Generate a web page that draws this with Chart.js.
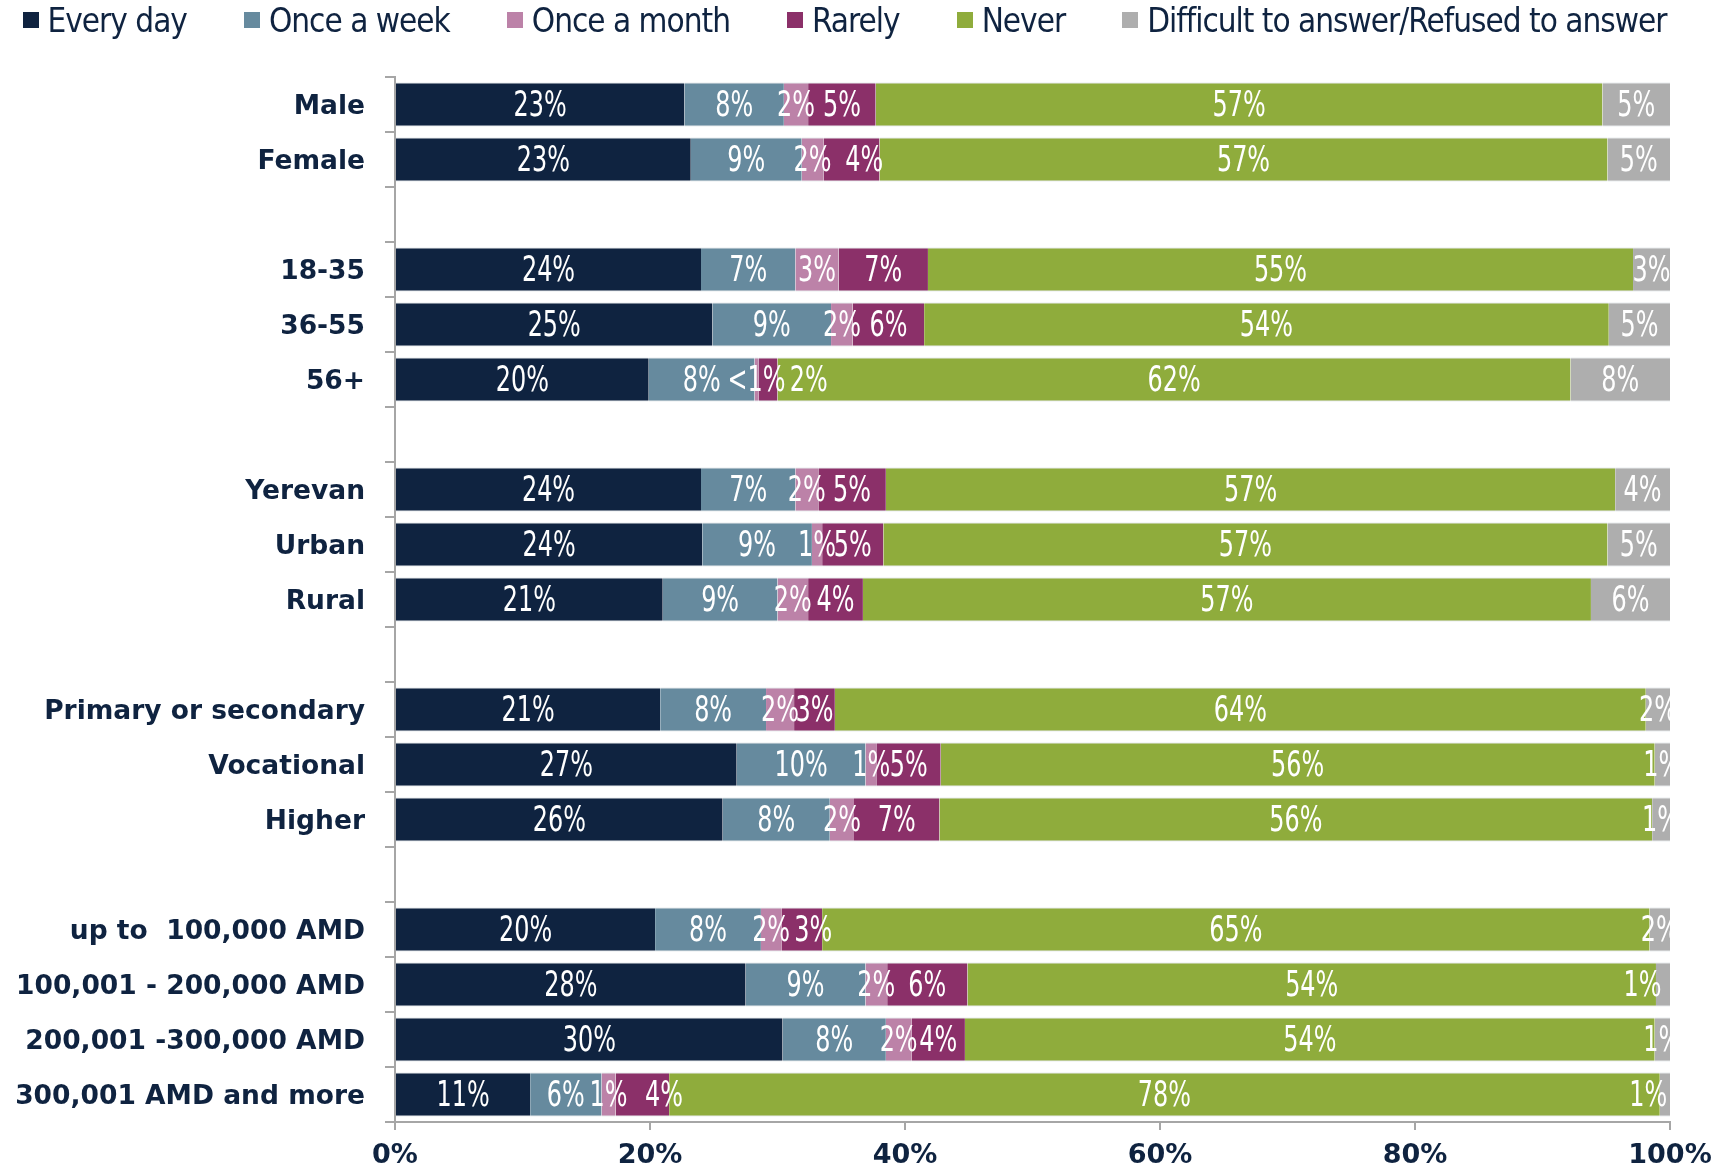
<!DOCTYPE html>
<html>
<head>
<meta charset="utf-8">
<script src="https://cdn.jsdelivr.net/npm/chart.js@4"></script>
<style>
  html, body { margin: 0; padding: 0; background: #fff; }
  #wrap { position: relative; width: 1729px; height: 1169px; }
  #legend {
    position: absolute; left: 0; top: 0; width: 1689px; height: 40px;
    display: flex; justify-content: center; align-items: center; gap: 57px;
    font-family: 'DejaVu Sans Condensed', sans-serif; font-size: 33px; letter-spacing: -1px;
    color: #0f2340; white-space: nowrap;
  }
  #legend span.item { display: flex; align-items: center; }
  #legend i { display: inline-block; width: 16px; height: 16px; margin-right: 9px; }
</style>
</head>
<body>
<div id="wrap"><div id="legend"></div><canvas id="myChart"></canvas></div>
<script>
const categories = ['Male', 'Female', '', '18-35', '36-55', '56+', '', 'Yerevan', 'Urban', 'Rural', '',
  'Primary or secondary', 'Vocational', 'Higher', '',
  'up to  100,000 AMD', '100,001 - 200,000 AMD', '200,001 -300,000 AMD', '300,001 AMD and more'];

const everyDay  = [22.7, 23.2, null, 24.0, 24.9, 19.9, null, 24.0, 24.1, 21.0, null, 20.8, 26.8, 25.7, null, 20.4, 27.5, 30.4, 10.6];
const onceWeek  = [7.8, 8.7, null, 7.4, 9.3, 8.3, null, 7.4, 8.6, 9.0, null, 8.3, 10.1, 8.4, null, 8.3, 9.4, 8.1, 5.6];
const onceMonth = [1.9, 1.7, null, 3.4, 1.7, 0.3, null, 1.8, 0.8, 2.4, null, 2.2, 0.9, 1.9, null, 1.6, 1.7, 2.0, 1.1];
const rarely    = [5.3, 4.4, null, 7.0, 5.6, 1.5, null, 5.3, 4.8, 4.3, null, 3.2, 5.0, 6.7, null, 3.2, 6.3, 4.2, 4.2];
const never     = [57.0, 57.1, null, 55.3, 53.7, 62.2, null, 57.2, 56.8, 57.1, null, 63.6, 56.0, 55.9, null, 64.9, 54.0, 54.1, 77.7];
const difficult = [5.3, 4.9, null, 2.9, 4.8, 7.8, null, 4.3, 4.9, 6.2, null, 1.9, 1.2, 1.4, null, 1.6, 1.1, 1.2, 0.8];

const xTicks = [0, 20, 40, 60, 80, 100];

const navy = '#0f2340';
const narrow = "'DejaVu Sans Condensed', sans-serif";

const fmt = v => v < 0.5 ? '<1%' : Math.round(v) + '%';

// a few labels are pushed sideways in the original so they don't collide ('dataset:row' -> percent points)
const nudges = { '3:1': 1.0, '3:5': 3.2, '3:15': 0.9, '3:18': 1.7, '5:16': -1.6, '5:18': -1.3 };

// white value labels centred on each segment, clipped to the plot
const segmentLabels = {
  id: 'segmentLabels',
  afterDatasetsDraw(chart) {
    const { ctx, chartArea } = chart;
    const xs = chart.scales.x;
    const unit = xs.getPixelForValue(1) - xs.getPixelForValue(0);
    ctx.save();
    ctx.beginPath();
    ctx.rect(chartArea.left, chartArea.top, chartArea.width, chartArea.height);
    ctx.clip();
    ctx.font = '35px ' + narrow;
    ctx.fillStyle = '#ffffff';
    ctx.textAlign = 'center';
    ctx.textBaseline = 'middle';
    chart.data.datasets.forEach((ds, i) => {
      chart.getDatasetMeta(i).data.forEach((bar, j) => {
        const v = ds.data[j];
        if (v == null) return;
        const dx = (nudges[i + ':' + j] || 0) * unit;
        ctx.save();
        ctx.translate((bar.x + bar.base) / 2 + dx, bar.y + 2);
        ctx.scale(0.76, 1);
        ctx.fillText(fmt(v), 0, 0);
        ctx.restore();
      });
    });
    ctx.restore();
  }
};

const ctx = document.getElementById('myChart').getContext('2d');
const chart = new Chart(ctx, {
  type: 'bar',
  data: {
    labels: categories,
    datasets: [
      { label: 'Every day', data: everyDay, backgroundColor: '#0f2340' },
      { label: 'Once a week', data: onceWeek, backgroundColor: '#668a9e' },
      { label: 'Once a month', data: onceMonth, backgroundColor: '#bc82a8' },
      { label: 'Rarely', data: rarely, backgroundColor: '#8b3069' },
      { label: 'Never', data: never, backgroundColor: '#8fac3c' },
      { label: 'Difficult to answer/Refused to answer', data: difficult, backgroundColor: '#aeaeae' }
    ]
  },
  options: {
    indexAxis: 'y',
    responsive: true,
    maintainAspectRatio: false,
    animation: false,
    layout: { padding: { left: 14, right: 59, top: 77, bottom: 0 } },
    datasets: {
      bar: {
        barPercentage: 0.8,
        categoryPercentage: 1,
        borderColor: '#d3d9de',
        borderWidth: { top: 1, bottom: 1, left: 0, right: 0 },
        borderSkipped: false
      }
    },
    plugins: {
      legend: { display: false },
      tooltip: { enabled: false }
    },
    scales: {
      x: {
        stacked: true,
        min: 0,
        max: 100,
        afterBuildTicks: s => { s.ticks = xTicks.map(v => ({ value: v })); },
        afterFit: s => { s.height = 47; },
        ticks: {
          color: navy,
          font: { family: 'DejaVu Sans', size: 27, weight: 'bold', lineHeight: 1 },
          padding: 12,
          callback: v => v + '%'
        },
        grid: { drawOnChartArea: false, tickLength: 8, color: '#a6a6a6', lineWidth: 2 },
        border: { color: '#a6a6a6', width: 2 }
      },
      y: {
        stacked: true,
        afterFit: s => { s.width = 395 - 14; },
        ticks: {
          color: navy,
          font: { family: 'DejaVu Sans', size: 26.5, weight: 'bold' },
          padding: 20,
          labelOffset: 3
        },
        grid: { offset: true, drawOnChartArea: false, tickLength: 10, color: '#a6a6a6', lineWidth: 2 },
        border: { color: '#a6a6a6', width: 2 }
      }
    }
  },
  plugins: [segmentLabels]
});

// legend drawn as html so it fits on one line like the original
const legendEl = document.getElementById('legend');
chart.data.datasets.forEach(ds => {
  const item = document.createElement('span');
  item.className = 'item';
  item.innerHTML = '<i style="background:' + ds.backgroundColor + '"></i>' + ds.label;
  legendEl.appendChild(item);
});
</script>
</body>
</html>
